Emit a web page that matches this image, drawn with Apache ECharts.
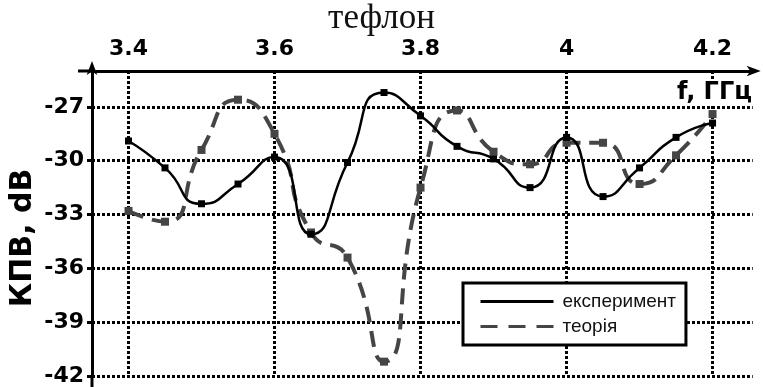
<!DOCTYPE html>
<html>
<head>
<meta charset="utf-8">
<script src="https://cdn.jsdelivr.net/npm/echarts@6/dist/echarts.min.js"></script>
<style>
html, body { margin: 0; padding: 0; background: #ffffff; }
#chart { width: 763px; height: 387px; }
</style>
</head>
<body>
<div id="chart"></div>
<script>
// Frequency samples, GHz
const freq = [3.40, 3.45, 3.50, 3.55, 3.60, 3.65, 3.70, 3.75, 3.80, 3.85, 3.90, 3.95, 4.00, 4.05, 4.10, 4.15, 4.20];
// Measured values, dB
const experiment = [-28.9, -30.4, -32.4, -31.3, -29.8, -34.1, -30.1, -26.2, -27.5, -29.2, -29.9, -31.5, -28.7, -32.0, -30.4, -28.7, -27.9];
// Calculated values, dB
const theory = [-32.8, -33.4, -29.4, -26.6, -28.5, -34.0, -35.4, -41.2, -31.5, -27.2, -29.5, -30.2, -29.0, -29.0, -31.3, -29.7, -27.4];

const xTicks = [3.4, 3.6, 3.8, 4.0, 4.2];
const yTicks = [-42, -39, -36, -33, -30, -27];

const titleText = 'тефлон';
const xName = 'f, ГГц';
const yName = 'КПВ, dB';
const seriesNames = ['експеримент', 'теорія'];

const pairs = (xs, ys) => xs.map((x, i) => [x, ys[i]]);

const boldFont = 'DejaVu Sans';
const dotted = { color: '#000', width: 3, type: [3, 2] };

const chart = echarts.init(document.getElementById('chart'), null, { renderer: 'canvas' });

chart.setOption({
  backgroundColor: '#ffffff',
  animation: false,
  title: {
    text: titleText,
    left: 'center',
    top: -4,
    textStyle: { fontFamily: 'Liberation Serif', fontSize: 35, fontWeight: 'normal', color: '#111' }
  },
  grid: { left: 92, top: 71, right: 10.3, bottom: 10, containLabel: false },
  xAxis: {
    type: 'value',
    position: 'top',
    min: 3.35,
    max: 4.255,
    axisLine: {
      show: true,
      lineStyle: { color: '#000', width: 3 },
      symbol: ['none', 'arrow'],
      symbolSize: [8, 14],
      symbolOffset: [0, 8]
    },
    axisTick: { show: false, customValues: xTicks },
    axisLabel: {
      customValues: xTicks,
      formatter: v => String(Math.round(v * 10) / 10),
      margin: 11,
      fontFamily: boldFont,
      fontWeight: 'bold',
      fontSize: 22,
      color: '#000'
    },
    splitLine: { show: true, lineStyle: dotted }
  },
  yAxis: {
    type: 'value',
    min: -42,
    max: -25,
    axisLine: {
      show: true,
      lineStyle: { color: '#000', width: 3 },
      symbol: ['none', 'arrow'],
      symbolSize: [8, 14],
      symbolOffset: [0, 10]
    },
    axisTick: { show: true, customValues: yTicks, length: 5, lineStyle: { color: '#000', width: 3 } },
    axisLabel: {
      customValues: yTicks,
      margin: 8,
      fontFamily: boldFont,
      fontWeight: 'bold',
      fontSize: 22,
      color: '#000'
    },
    splitLine: { show: true, lineStyle: dotted }
  },
  legend: {
    data: [
      { name: seriesNames[0], lineStyle: { width: 3 } },
      { name: seriesNames[1], lineStyle: { width: 3, type: [17, 11] } }
    ],
    orient: 'vertical',
    left: 463,
    top: 283,
    padding: [9, 10, 9, 16],
    itemWidth: 73,
    itemHeight: 14,
    itemGap: 6,
    backgroundColor: '#fff',
    borderColor: '#000',
    borderWidth: 3,
    itemStyle: { opacity: 0 },
    textStyle: { fontFamily: 'Liberation Sans', fontSize: 19, color: '#111', padding: [0, 0, 0, 4] }
  },
  graphic: [
    {
      // left stub of the frequency axis past the vertical axis
      type: 'line',
      shape: { x1: 78, y1: 71, x2: 92, y2: 71 },
      style: { stroke: '#000', lineWidth: 3 }
    },
    {
      // vertical axis continues a little below the last grid line
      type: 'line',
      shape: { x1: 92, y1: 376, x2: 92, y2: 387 },
      style: { stroke: '#000', lineWidth: 3 }
    },
    {
      type: 'text',
      x: 23,
      y: 238,
      rotation: Math.PI / 2,
      style: {
        text: yName,
        align: 'center',
        verticalAlign: 'middle',
        fontFamily: boldFont,
        fontWeight: 'bold',
        fontSize: 30,
        fill: '#000'
      }
    },
    {
      type: 'text',
      left: 670,
      top: 81,
      z: 100,
      style: {
        text: xName,
        fontFamily: boldFont,
        fontWeight: 'bold',
        fontSize: 24,
        fill: '#000',
        backgroundColor: '#fff',
        padding: [0, 0, 0, 7]
      }
    }
  ],
  series: [
    {
      name: seriesNames[1],
      type: 'line',
      data: pairs(freq, theory),
      smooth: 0.6,
      symbol: 'rect',
      symbolSize: 8,
      itemStyle: { color: '#454545' },
      lineStyle: { color: '#454545', width: 4, type: [16, 9] },
      z: 2
    },
    {
      name: seriesNames[0],
      type: 'line',
      data: pairs(freq, experiment),
      smooth: 0.6,
      symbol: 'rect',
      symbolSize: 7,
      itemStyle: { color: '#000' },
      lineStyle: { color: '#000', width: 2.5 },
      z: 3
    }
  ]
});
</script>
</body>
</html>
